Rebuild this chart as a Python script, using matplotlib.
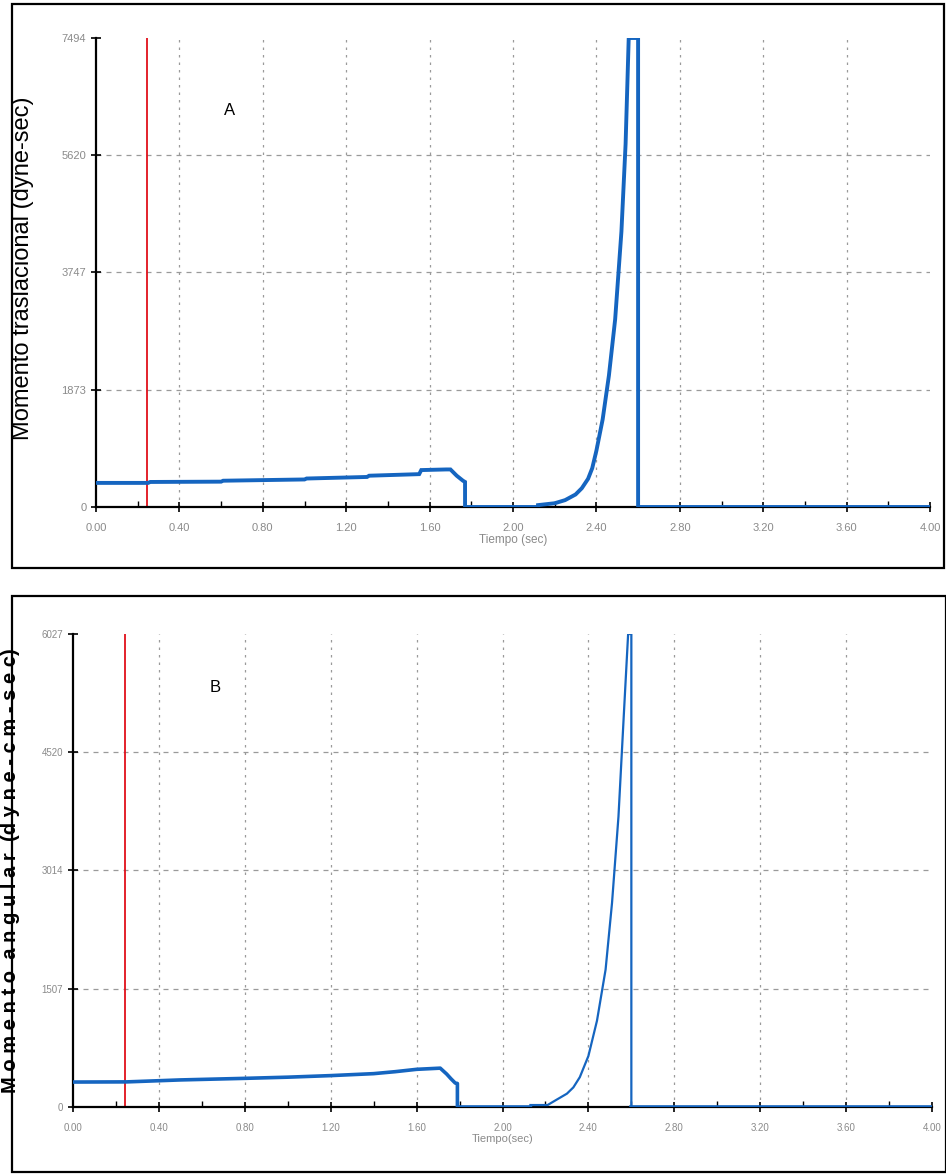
import matplotlib
matplotlib.use("Agg")
import matplotlib.pyplot as plt
from matplotlib.patches import Rectangle
from matplotlib.ticker import MultipleLocator

plt.rcParams["font.family"] = ["Liberation Sans", "DejaVu Sans"]

# --- Panel A: translational momentum ---
t_a = [0.00, 0.25, 0.26, 0.60, 0.61, 1.00, 1.01, 1.30, 1.31, 1.55, 1.56, 1.68,
       1.70, 1.73, 1.76, 1.77, 1.77, 2.12, 2.12, 2.20, 2.25, 2.30, 2.33, 2.36,
       2.38, 2.40, 2.43, 2.46, 2.49, 2.52, 2.54, 2.555, 2.60, 2.60, 4.00]
p_a = [385, 385, 400, 405, 420, 440, 455, 480, 500, 525, 590, 600,
       600, 500, 420, 400, 0, 0, 30, 60, 110, 200, 300, 450,
       620, 900, 1400, 2100, 3000, 4400, 5800, 7494, 7494, 0, 0]
yticks_a = [0, 1873, 3747, 5620, 7494]

# --- Panel B: angular momentum ---
t_b_flat = [0.00, 0.25, 0.50, 0.80, 1.00, 1.20, 1.40, 1.50, 1.60, 1.71,
            1.74, 1.76, 1.78, 1.79, 1.79, 2.13]
l_b_flat = [318, 320, 345, 365, 380, 400, 425, 450, 480, 495,
            420, 360, 305, 300, 0, 0]
t_b_rise = [2.13, 2.21, 2.25, 2.30, 2.33, 2.36, 2.40, 2.44, 2.48, 2.51, 2.54,
            2.565, 2.585, 2.60, 2.60]
l_b_rise = [25, 25, 90, 170, 250, 380, 650, 1100, 1750, 2600, 3700,
            5000, 6027, 6027, 0]
t_b_tail = [2.60, 4.00]
l_b_tail = [0, 0]
yticks_b = [0, 1507, 3014, 4520, 6027]

xticks = [0.00, 0.40, 0.80, 1.20, 1.60, 2.00, 2.40, 2.80, 3.20, 3.60, 4.00]
marker_time_a = 0.245
marker_time_b = 0.24

blue = "#1565c0"
grid_gray = "#9a9a9a"
tick_gray = "#8a8a8a"

fig = plt.figure(figsize=(9.46, 11.74), dpi=100)

# panel frames
for (x0, y0, w, h) in [(12, 4, 932, 564), (12, 596, 934, 576)]:
    fig.add_artist(Rectangle((x0 / 946, 1 - (y0 + h) / 1174), w / 946, h / 1174,
                             transform=fig.transFigure, fill=False,
                             edgecolor="black", linewidth=1.6))


def style_axes(ax, yticks, labelsize):
    ax.set_xlim(0, 4.0)
    ax.set_ylim(0, yticks[-1])
    for s in ("top", "right"):
        ax.spines[s].set_visible(False)
    for s in ("left", "bottom"):
        ax.spines[s].set_linewidth(1.6)
        ax.spines[s].set_color("black")
    ax.set_xticks(xticks)
    ax.set_xticklabels([f"{v:.2f}" for v in xticks])
    ax.xaxis.set_minor_locator(MultipleLocator(0.2))
    ax.set_yticks(yticks)
    ax.set_yticklabels([str(v) for v in yticks])
    ax.tick_params(axis="both", which="major", direction="inout", length=7,
                   width=1.2, colors="black", labelcolor=tick_gray,
                   labelsize=labelsize)
    ax.tick_params(axis="x", which="minor", direction="in", length=4,
                   width=1.0, colors="black")
    ax.tick_params(axis="x", pad=8)
    for v in xticks[1:-1]:
        ax.axvline(v, color=grid_gray, lw=0.9, ls=(0, (2, 4)), zorder=1)
    for v in yticks[1:-1]:
        ax.axhline(v, color=grid_gray, lw=0.9, ls=(0, (4, 4)), zorder=1)


# ----- Panel A -----
ax_a = fig.add_axes([96 / 946, 1 - 507 / 1174, (930 - 96) / 946, (507 - 38) / 1174])
style_axes(ax_a, yticks_a, 8)
ax_a.axvline(marker_time_a, color="#e0101a", lw=1.3, zorder=2)
ax_a.plot(t_a, p_a, color=blue, lw=2.8, zorder=3, solid_joinstyle="miter")
ax_a.text(0.64, 6340, "A", fontsize=12, color="black", ha="center", va="center")
ax_a.set_ylabel("Momento traslacional (dyne-sec)", fontsize=17, color="black")
ax_a.yaxis.set_label_coords(-0.074, 0.51)
ax_a.set_xlabel("Tiempo (sec)", fontsize=8.5, color=tick_gray, labelpad=1)

# ----- Panel B -----
ax_b = fig.add_axes([73 / 946, 1 - 1107 / 1174, (932 - 73) / 946, (1107 - 634) / 1174])
style_axes(ax_b, yticks_b, 7)
ax_b.axvline(marker_time_b, color="#e0101a", lw=1.3, zorder=2)
ax_b.plot(t_b_flat, l_b_flat, color=blue, lw=2.6, zorder=3)
ax_b.plot(t_b_rise, l_b_rise, color=blue, lw=1.6, zorder=3)
ax_b.plot(t_b_tail, l_b_tail, color=blue, lw=2.6, zorder=3)
ax_b.text(0.66, 5340, "B", fontsize=12, color="black", ha="center", va="center")
ax_b.set_ylabel("M o m e n t o  a n g u l a r  (d y n e - c m - s e c)",
                fontsize=14.5, fontweight="bold", color="black")
ax_b.yaxis.set_label_coords(-0.062, 0.50)
ax_b.set_xlabel("Tiempo(sec)", fontsize=8, color=tick_gray, labelpad=1)

fig.savefig("out.png", dpi=100)
